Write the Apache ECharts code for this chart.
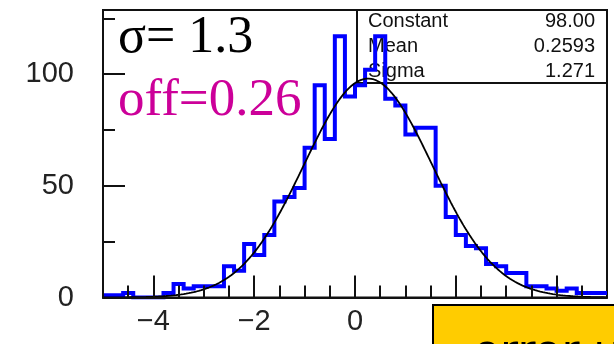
<!DOCTYPE html>
<html>
<head>
<meta charset="utf-8">
<script src="https://cdn.jsdelivr.net/npm/echarts@6/dist/echarts.min.js"></script>
<style>
  html, body { margin: 0; padding: 0; background: #fff; }
  #chart { width: 614px; height: 344px; }
</style>
</head>
<body>
<div id="chart"></div>
<script>
// Histogram: 50 bins of width 0.2 spanning [-5, 5]
const binLow = -5.0;
const binWidth = 0.2;
const counts = [
  1, 1, 2, 0, 0, 0, 2, 6, 4, 5,
  5, 5, 14, 12, 24, 19, 28, 43, 45, 49,
  67, 95, 71, 117, 90, 95, 102, 117, 89, 86,
  73, 76, 76, 50, 36, 28, 23, 22, 15, 14,
  11, 11, 5, 5, 4, 3, 4, 2, 2, 2
];

// Gaussian fit result
const fitConstant = 98.00;
const fitMean = 0.2593;
const fitSigma = 1.271;

// Fit statistics box
const statNames = ['Constant', 'Mean', 'Sigma'];
const statValues = ['98.00', '0.2593', '1.271'];

// Annotations
const sigmaText = 'σ= 1.3';
const offsetText = 'off=0.26';
const noteText = 'error u';

// Axis ticks
const xMajorTicks = [-4, -2, 0, 2, 4];
const yMajorTicks = [0, 50, 100];
const yMax = 128.7;

// Minor ticks: every 0.5 on x, every 25 on y, skipping the major positions
const xMinorTicks = [];
for (let v = -4.5; v < 5; v += 0.5) {
  if (!xMajorTicks.includes(v)) xMinorTicks.push(v);
}
const yMinorTicks = [];
for (let v = 25; v < yMax; v += 25) {
  if (!yMajorTicks.includes(v)) yMinorTicks.push(v);
}

// Step outline of the histogram
const stepData = [];
counts.forEach((c, i) => {
  const lo = binLow + i * binWidth;
  stepData.push([lo, c], [lo + binWidth, c]);
});

// Fitted gaussian curve
const fitData = [];
for (let i = 0; i <= 400; i++) {
  const x = -5 + i * 0.025;
  const u = (x - fitMean) / fitSigma;
  fitData.push([x, fitConstant * Math.exp(-0.5 * u * u)]);
}

const frameColor = '#111';
const labelFont = 'Liberation Sans';

const chart = echarts.init(document.getElementById('chart'), null, { renderer: 'canvas' });

const statGraphics = [];
statNames.forEach((name, i) => {
  const y = 21.7 + i * 25;
  statGraphics.push({
    type: 'text', x: 368, y: y, z: 1,
    style: { text: name, font: '20px "Liberation Sans"', fill: '#111', align: 'left', verticalAlign: 'middle' }
  });
  statGraphics.push({
    type: 'text', x: 595, y: y, z: 1,
    style: { text: statValues[i], font: '20px "Liberation Sans"', fill: '#111', align: 'right', verticalAlign: 'middle' }
  });
});

chart.setOption({
  animation: false,
  backgroundColor: '#fff',
  grid: {
    left: 103, right: 7, top: 10, bottom: 46.5,
    show: true, borderColor: frameColor, borderWidth: 2,
    backgroundColor: 'transparent'
  },
  xAxis: [{
    type: 'value', min: -5, max: 5, position: 'bottom', z: 5,
    axisLine: { show: true, onZero: false, lineStyle: { color: frameColor, width: 2 } },
    axisTick: { show: true, inside: true, length: 22, customValues: xMajorTicks, lineStyle: { color: frameColor, width: 2 } },
    axisLabel: {
      customValues: xMajorTicks,
      formatter: v => String(v).replace('-', '\u2212'),
      fontFamily: labelFont, fontSize: 29, color: '#222', margin: 10
    },
    splitLine: { show: false }
  }, {
    type: 'value', min: -5, max: 5, position: 'bottom', z: 5,
    axisLine: { show: false, onZero: false },
    axisTick: { show: true, inside: true, length: 12, customValues: xMinorTicks, lineStyle: { color: frameColor, width: 2 } },
    axisLabel: { show: false },
    splitLine: { show: false }
  }],
  yAxis: [{
    type: 'value', min: 0, max: yMax, position: 'left', z: 5,
    axisLine: { show: true, onZero: false, lineStyle: { color: frameColor, width: 2 } },
    axisTick: { show: true, inside: true, length: 22, customValues: yMajorTicks, lineStyle: { color: frameColor, width: 2 } },
    axisLabel: {
      customValues: yMajorTicks,
      fontFamily: labelFont, fontSize: 29, color: '#222', margin: 29
    },
    splitLine: { show: false }
  }, {
    type: 'value', min: 0, max: yMax, position: 'left', z: 5,
    axisLine: { show: false, onZero: false },
    axisTick: { show: true, inside: true, length: 12, customValues: yMinorTicks, lineStyle: { color: frameColor, width: 2 } },
    axisLabel: { show: false },
    splitLine: { show: false }
  }],
  series: [{
    name: 'histogram', type: 'line', data: stepData,
    xAxisIndex: 0, yAxisIndex: 0,
    showSymbol: false, symbol: 'none', clip: true, z: 3,
    lineStyle: { color: '#0000ff', width: 4, join: 'miter', cap: 'butt' }
  }, {
    name: 'fit', type: 'line', data: fitData,
    xAxisIndex: 0, yAxisIndex: 0,
    showSymbol: false, symbol: 'none', clip: true, z: 4,
    lineStyle: { color: '#000', width: 1.8 }
  }],
  graphic: [
    // statistics box
    { type: 'rect', z: 1, shape: { x: 357, y: 10, width: 250, height: 73 },
      style: { fill: 'transparent', stroke: frameColor, lineWidth: 2 } },
    ...statGraphics,
    // annotations
    { type: 'text', x: 118, y: 38.5, z: 1,
      style: { text: sigmaText, font: '52px "Liberation Serif"', fill: '#000', align: 'left', verticalAlign: 'middle' } },
    { type: 'text', x: 118, y: 101.5, z: 1,
      style: { text: offsetText, font: '53px "Liberation Serif"', fill: '#cc0099', align: 'left', verticalAlign: 'middle' } },
    // note box at the bottom right
    { type: 'rect', z: 20, shape: { x: 433, y: 305, width: 200, height: 60 },
      style: { fill: '#ffcc00', stroke: '#000', lineWidth: 2 } },
    { type: 'text', x: 473, y: 355, z: 21,
      style: { text: noteText, font: '44px "DejaVu Sans"', fill: '#000', align: 'left', verticalAlign: 'middle' } }
  ]
});
</script>
</body>
</html>
